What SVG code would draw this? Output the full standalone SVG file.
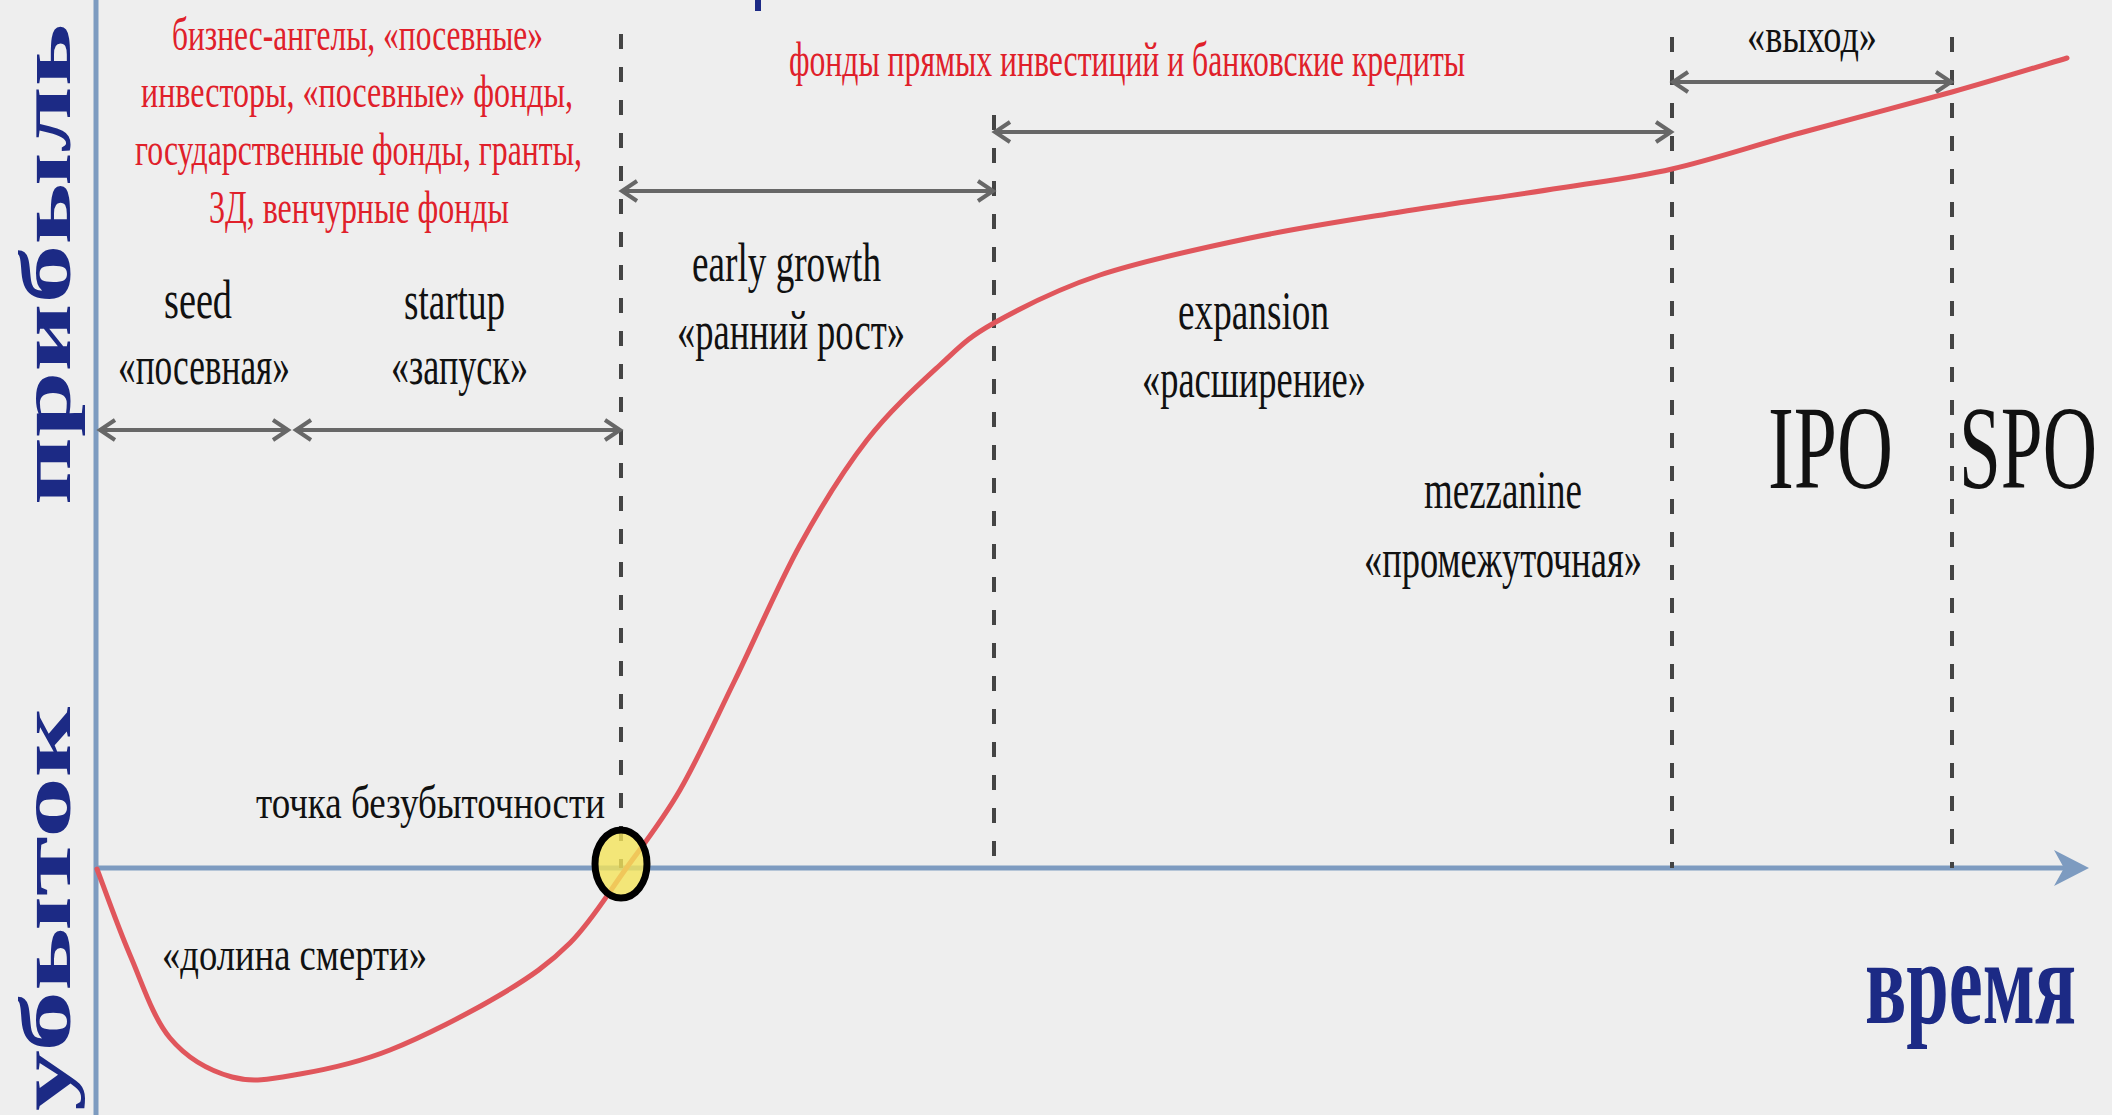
<svg xmlns="http://www.w3.org/2000/svg" width="2112" height="1115" viewBox="0 0 2112 1115">
<style>
text{font-family:"Liberation Serif","Times New Roman",serif;}
.red{fill:#e0202a;font-size:47px;}
.lbl{fill:#111;font-size:54px;}
.sm{fill:#111;font-size:46px;}
.big{fill:#111;font-size:118px;}
.navy{fill:#1c2a85;font-weight:bold;}
.dash{stroke:#444;stroke-width:4;stroke-dasharray:15 18;fill:none;}
.span{stroke:#676767;stroke-width:4;fill:none;marker-start:url(#chev);marker-end:url(#chev);}
.axis{stroke:#7d9bc0;stroke-width:5;fill:none;}
</style>
<defs>
<marker id="chev" markerUnits="userSpaceOnUse" markerWidth="24" markerHeight="26" refX="17" refY="12" orient="auto-start-reverse" viewBox="0 0 24 26">
<path d="M2,2 L17,12 L2,22" fill="none" stroke="#676767" stroke-width="4"/>
</marker>
</defs>
<rect x="0" y="0" width="2112" height="1115" fill="#eeeeee"/>
<rect x="755" y="0" width="6" height="11" fill="#1c2a85"/>

<g id="axes">
<line class="axis" x1="96" y1="0" x2="96" y2="1115"/>
<line class="axis" x1="96" y1="868" x2="2078" y2="868"/>
<polygon points="2054,850 2089,868 2054,886 2064,868" fill="#7d9bc0"/>
</g>

<g id="dividers">
<line class="dash" x1="621" y1="34" x2="621" y2="868"/>
<line class="dash" x1="994" y1="115" x2="994" y2="868"/>
<line class="dash" x1="1672" y1="37" x2="1672" y2="868"/>
<line class="dash" x1="1952" y1="37" x2="1952" y2="868"/>
</g>

<g id="connectors">
<line class="span" x1="100" y1="430" x2="288" y2="430"/>
<line class="span" x1="296" y1="430" x2="620" y2="430"/>
<line class="span" x1="622" y1="191" x2="993" y2="191"/>
<line class="span" x1="995" y1="132" x2="1671" y2="132"/>
<line class="span" x1="1673" y1="82" x2="1951" y2="82"/>
</g>

<g id="curve">
<path d="M97,869 C102.5,883.3 117.8,926.8 130,955 C142.2,983.2 153,1017.7 170,1038 C187,1058.3 210.3,1071 232,1077 C253.7,1083 273.7,1078.5 300,1074 C326.3,1069.5 356.7,1063.2 390,1050 C423.3,1036.8 470,1012.8 500,995 C530,977.2 549.2,963.8 570,943 C590.8,922.2 606.7,895.5 625,870 C643.3,844.5 661.7,821.7 680,790 C698.3,758.3 715,720.8 735,680 C755,639.2 778,585 800,545 C822,505 843.7,470 867,440 C890.3,410 918.8,384.5 940,365 C961.2,345.5 967.3,338 994,323 C1020.7,308 1057.3,289.2 1100,275 C1142.7,260.8 1200,248.5 1250,238 C1300,227.5 1348.3,220.3 1400,212 C1451.7,203.7 1514.7,195.2 1560,188 C1605.3,180.8 1632,178.2 1672,169 C1712,159.8 1753.3,145.8 1800,133 C1846.7,120.2 1907.5,104.5 1952,92 C1996.5,79.5 2047.8,63.7 2067,58" fill="none" stroke="#e0565c" stroke-width="5" stroke-linecap="round"/>
</g>

<g id="breakeven">
<ellipse cx="621" cy="864" rx="26" ry="34" fill="#f4e45a" fill-opacity="0.8" stroke="#000" stroke-width="7"/>
</g>

<g id="investors-early">
<text class="red" x="172" y="50" textLength="371" lengthAdjust="spacingAndGlyphs">бизнес-ангелы, «посевные»</text>
<text class="red" x="141" y="107" textLength="432" lengthAdjust="spacingAndGlyphs">инвесторы, «посевные» фонды,</text>
<text class="red" x="135" y="165" textLength="447" lengthAdjust="spacingAndGlyphs">государственные фонды, гранты,</text>
<text class="red" x="209" y="223" textLength="300" lengthAdjust="spacingAndGlyphs">3Д, венчурные фонды</text>
</g>
<g id="investors-late">
<text class="red" x="789" y="76" textLength="676" lengthAdjust="spacingAndGlyphs" style="font-size:48px">фонды прямых инвестиций и банковские кредиты</text>
</g>

<g id="stage-seed">
<text class="lbl" x="164" y="318" textLength="68" lengthAdjust="spacingAndGlyphs">seed</text>
<text class="lbl" x="118" y="384" textLength="172" lengthAdjust="spacingAndGlyphs">«посевная»</text>
</g>
<g id="stage-startup">
<text class="lbl" x="404" y="319" textLength="101" lengthAdjust="spacingAndGlyphs">startup</text>
<text class="lbl" x="391" y="384" textLength="137" lengthAdjust="spacingAndGlyphs">«запуск»</text>
</g>
<g id="stage-early">
<text class="lbl" x="692" y="281" textLength="189" lengthAdjust="spacingAndGlyphs">early growth</text>
<text class="lbl" x="677" y="349" textLength="228" lengthAdjust="spacingAndGlyphs">«ранний рост»</text>
</g>
<g id="stage-expansion">
<text class="lbl" x="1178" y="329" textLength="151" lengthAdjust="spacingAndGlyphs">expansion</text>
<text class="lbl" x="1142" y="397" textLength="224" lengthAdjust="spacingAndGlyphs">«расширение»</text>
</g>
<g id="stage-mezzanine">
<text class="lbl" x="1424" y="508" textLength="158" lengthAdjust="spacingAndGlyphs">mezzanine</text>
<text class="lbl" x="1364" y="577" textLength="278" lengthAdjust="spacingAndGlyphs">«промежуточная»</text>
</g>
<g id="stage-ipo">
<text class="big" x="1768" y="488" textLength="125" lengthAdjust="spacingAndGlyphs">IPO</text>
</g>
<g id="stage-spo">
<text class="big" x="1959" y="488" textLength="138" lengthAdjust="spacingAndGlyphs">SPO</text>
</g>
<g id="stage-exit">
<text class="sm" x="1747" y="52" textLength="130" lengthAdjust="spacingAndGlyphs" style="font-size:48px">«выход»</text>
</g>
<g id="label-breakeven">
<text class="sm" x="256" y="818" textLength="349" lengthAdjust="spacingAndGlyphs">точка безубыточности</text>
</g>
<g id="label-valley">
<text class="sm" x="162" y="970" textLength="265" lengthAdjust="spacingAndGlyphs">«долина смерти»</text>
</g>

<g id="axis-labels">
<text class="navy" transform="translate(70,505) rotate(-90)" x="0" y="0" textLength="481" lengthAdjust="spacingAndGlyphs" style="font-size:72px">прибыль</text>
<text class="navy" transform="translate(70,1111) rotate(-90)" x="0" y="0" textLength="404" lengthAdjust="spacingAndGlyphs" style="font-size:72px">убыток</text>
<text class="navy" x="1865" y="1023" textLength="211" lengthAdjust="spacingAndGlyphs" style="font-size:120px">время</text>
</g>
</svg>
